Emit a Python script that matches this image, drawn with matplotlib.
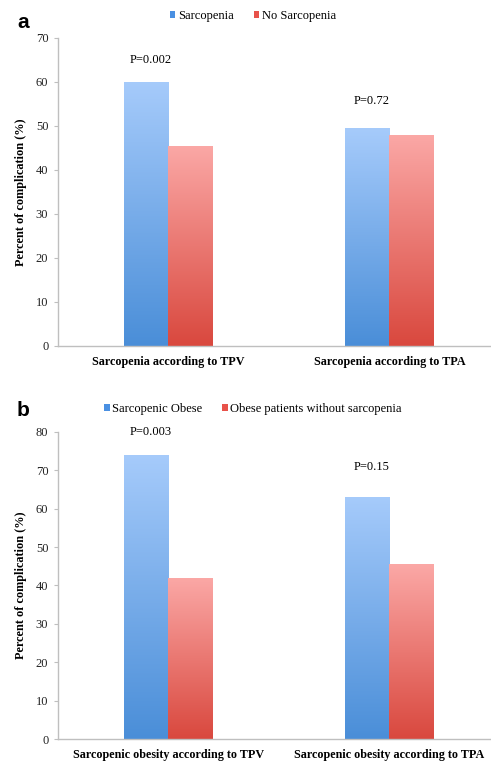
import numpy as np
import matplotlib
matplotlib.use("Agg")
import matplotlib.pyplot as plt
from matplotlib.colors import LinearSegmentedColormap
from matplotlib.patches import Patch

# ---- data ----
cats_a = ["Sarcopenia according to TPV", "Sarcopenia according to TPA"]
series_a = ["Sarcopenia", "No Sarcopenia"]
vals_a_blue = [60, 49.5]
vals_a_red = [45.5, 48]
pvals_a = ["P=0.002", "P=0.72"]
pval_y_a = [65, 55.7]

cats_b = ["Sarcopenic obesity according to TPV", "Sarcopenic obesity according to TPA"]
series_b = ["Sarcopenic Obese", "Obese patients without sarcopenia"]
vals_b_blue = [74, 63]
vals_b_red = [42, 45.5]
pvals_b = ["P=0.003", "P=0.15"]
pval_y_b = [80, 70.8]

yticks_a = [0, 10, 20, 30, 40, 50, 60, 70]
yticks_b = [0, 10, 20, 30, 40, 50, 60, 70, 80]

plt.rcParams['font.family'] = ['Liberation Serif', 'DejaVu Serif']

blue_cmap = LinearSegmentedColormap.from_list("b", ["#4A8ED8", "#A6CBFB"])
red_cmap = LinearSegmentedColormap.from_list("r", ["#D9483E", "#FBA8A6"])
AX_COL = "#BFBFBF"

fig = plt.figure(figsize=(4.91, 7.67), dpi=100)


def gradient_bars(ax, bars, cmap):
    grad = np.linspace(0, 1, 256).reshape(-1, 1)
    for b in bars:
        x0 = b.get_x()
        w = b.get_width()
        h = b.get_height()
        im = ax.imshow(grad, cmap=cmap, origin="lower", aspect="auto",
                       extent=(x0, x0 + w, 0, h), vmin=0, vmax=1,
                       zorder=2)
        im.set_clip_path(b)
        b.set_facecolor("none")
        b.set_edgecolor("none")


def panel(rect, cats, series, blue, red, pvals, pvy, yticks, ymax, letter, legend_y, letter_y):
    ax = fig.add_axes(rect)
    x = np.arange(len(cats))
    w = 0.2
    bb = ax.bar(x - w / 2, blue, w, zorder=2)
    br = ax.bar(x + w / 2, red, w, zorder=2)
    gradient_bars(ax, bb, blue_cmap)
    gradient_bars(ax, br, red_cmap)
    ax.set_xlim(-0.5, len(cats) - 0.5)
    ax.set_ylim(0, ymax)
    ax.set_yticks(yticks)
    ax.set_xticks(x)
    ax.set_xticklabels(cats, fontsize=8.7, fontweight="bold")
    ax.tick_params(axis="x", length=0, pad=7)
    ax.tick_params(axis="y", length=3, color=AX_COL, labelsize=9, pad=4, labelcolor="#222222")
    for s in ["top", "right"]:
        ax.spines[s].set_visible(False)
    for s in ["left", "bottom"]:
        ax.spines[s].set_color(AX_COL)
        ax.spines[s].set_linewidth(1.0)
    ax.set_ylabel("Percent of complication (%)", fontsize=8.8, fontweight="bold", labelpad=6)
    for xi, t, yy in zip(x, pvals, pvy):
        ax.text(xi - 0.08, yy, t, ha="center", va="center", fontsize=9)
    handles = [Patch(facecolor="#4A90E2"), Patch(facecolor="#E8524A")]
    fig.legend(handles, series, loc="center", bbox_to_anchor=(0.515, legend_y),
               ncol=2, frameon=False, fontsize=9, handlelength=0.45, handleheight=0.4,
               handletextpad=0.2, columnspacing=1.6)
    fig.text(0.047, letter_y, letter, fontsize=15, fontweight="bold",
             family="Liberation Sans", ha="center", va="center")
    return ax


panel([0.1181, 0.5489, 0.900, 0.4016], cats_a, series_a, vals_a_blue, vals_a_red,
      pvals_a, pval_y_a, yticks_a, 70, "a", 1 - 16 / 767, 1 - 22 / 767)
panel([0.1181, 0.0361, 0.900, 0.4011], cats_b, series_b, vals_b_blue, vals_b_red,
      pvals_b, pval_y_b, yticks_b, 80, "b", 1 - 409 / 767, 1 - 411 / 767)

fig.savefig("out.png", dpi=100)
